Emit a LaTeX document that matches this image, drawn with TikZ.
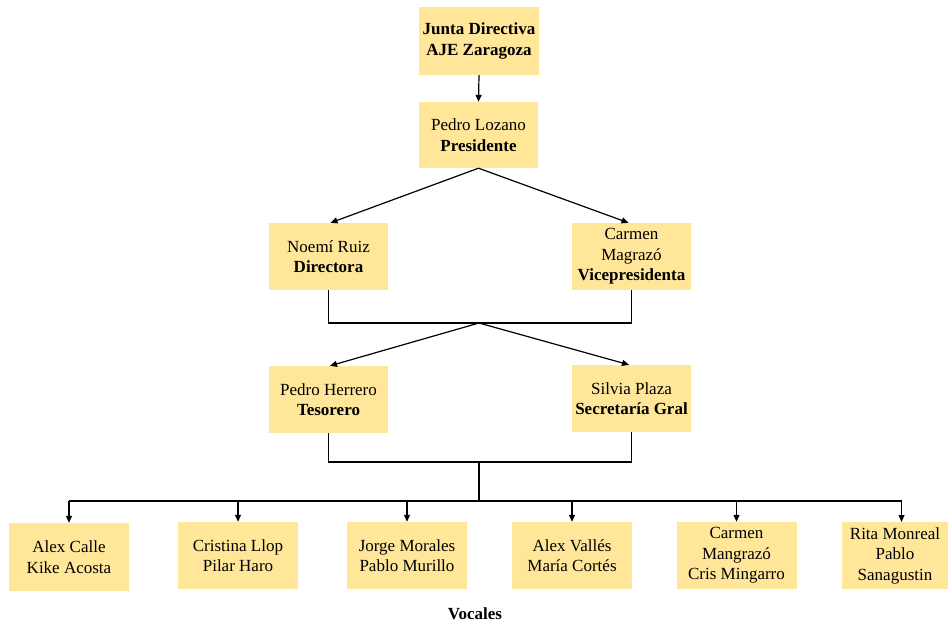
\documentclass[tikz,border=0pt]{standalone}
\usepackage{fontspec}
\setmainfont{Liberation Serif}
\usetikzlibrary{arrows.meta}
\definecolor{boxfill}{HTML}{FFE699}
\tikzset{
  card/.style={fill=boxfill, draw=none, align=center, inner sep=2pt,
    minimum width=120pt, minimum height=67pt,
    font=\fontsize{17}{20.5}\selectfont},
  link/.style={draw=black, line width=1.2pt},
  arr/.style={link, -{Triangle[length=7pt, width=6pt]}}
}
\begin{document}
\begin{tikzpicture}[x=1pt, y=-1pt]
\useasboundingbox (0,0) rectangle (950,623);

% leadership chain
\node[card, minimum height=68pt] (junta) at (479,41) {\textbf{Junta Directiva}\\\textbf{AJE Zaragoza}};
\node[card, minimum width=119pt, minimum height=66pt] (pres) at (478.5,135) {Pedro Lozano\\\textbf{Presidente}};
\node[card, minimum width=119pt] (dir) at (328.5,256.5) {Noemí Ruiz\\\textbf{Directora}};
\node[card, minimum width=119pt] (vice) at (631.5,256.5) {Carmen\\Magrazó\\\textbf{Vicepresidenta}};
\node[card, minimum width=119pt] (tes) at (328.5,399.5) {Pedro Herrero\\\textbf{Tesorero}};
\node[card, minimum width=119pt] (sec) at (631.5,398.5) {Silvia Plaza\\\textbf{Secretaría Gral}};

% vocales
\node[card, minimum height=68pt] (v1) at (69,557) {Alex Calle\\Kike Acosta};
\node[card] (v2) at (238,555.5) {Cristina Llop\\Pilar Haro};
\node[card] (v3) at (407,555.5) {Jorge Morales\\Pablo Murillo};
\node[card] (v4) at (572,555.5) {Alex Vallés\\María Cortés};
\node[card] (v5) at (736.5,555.5) {Carmen\\Mangrazó\\Cris Mingarro};
\node[card, minimum width=106pt] (v6) at (895,555.5) {Rita Monreal\\Pablo\\Sanagustin};

\node[font=\fontsize{17}{20.5}\selectfont\bfseries] (voc) at (475,614) {Vocales};

% junction points
\coordinate (j1) at (479,323);
\coordinate (j2) at (479,462);
\coordinate (j3) at (479,501);
\coordinate (b1) at (69,501);
\coordinate (b6) at (901.5,501);
\coordinate (t6) at (901.5,522);

% connectors
\draw[arr] (junta.south) -- (pres.south |- pres.north);
\draw[arr] (pres.south) -- ([xshift=2pt]dir.north);
\draw[arr] (pres.south) -- ([xshift=-3pt]vice.north);
\draw[link] (dir.south) |- (j1) -| (vice.south);
\draw[arr] (j1) -- ([xshift=1.5pt]tes.north);
\draw[arr] (j1) -- ([xshift=-2.5pt]sec.north);
\draw[link] (tes.south) |- (j2) -| (sec.south);
\draw[link] (j2) -- (j3);
\draw[link] (b1) -- (b6);
\draw[arr] (b1) -- (v1.north);
\draw[arr] (v2.north |- j3) -- (v2.north);
\draw[arr] (v3.north |- j3) -- (v3.north);
\draw[arr] (v4.north |- j3) -- (v4.north);
\draw[arr] (v5.north |- j3) -- (v5.north);
\draw[arr] (b6) -- (t6);
\end{tikzpicture}
\end{document}
